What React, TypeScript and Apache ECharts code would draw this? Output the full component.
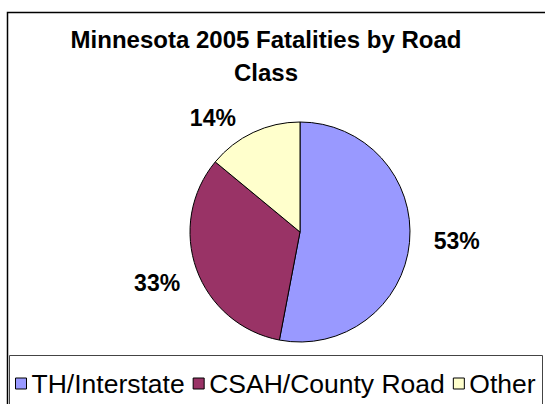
import React, { useEffect, useRef } from "react";
import * as echarts from "echarts";

const categories = ["TH/Interstate", "CSAH/County Road", "Other"];
const values = [53, 33, 14];
const colors = ["#9999FF", "#993366", "#FFFFCC"];
const titleText = "Minnesota 2005 Fatalities by Road\nClass";

const CX = 300;
const CY = 232;
const R = 110;
const FONT = "'Liberation Sans', Arial, Helvetica, sans-serif";

export default function App() {
  const ref = useRef<HTMLDivElement>(null);

  useEffect(() => {
    if (!ref.current) return;
    const chart = echarts.init(ref.current, null, { renderer: "svg" });
    const total = values.reduce((a, b) => a + b, 0);

    const option = {
      animation: false,
      backgroundColor: "#ffffff",
      title: {
        text: titleText,
        left: 266,
        top: 23,
        textAlign: "center",
        padding: 0,
        textStyle: {
          fontFamily: FONT,
          fontSize: 24,
          fontWeight: "bold",
          color: "#000",
          lineHeight: 33,
        },
      },
      legend: {
        data: categories,
        left: 15,
        top: 370,
        padding: 0,
        icon: "rect",
        itemWidth: 11,
        itemHeight: 11,
        itemGap: 8,
        textStyle: {
          fontFamily: FONT,
          fontSize: 26.5,
          color: "#000",
          lineHeight: 26,
        },
        itemStyle: { borderColor: "#000", borderWidth: 1 },
      },
      graphic: [
        {
          type: "rect",
          shape: { x: 7.5, y: 12.5, width: 560, height: 420 },
          style: { fill: "none", stroke: "#000", lineWidth: 1.5 },
          silent: true,
        },
        {
          type: "rect",
          shape: { x: 9.5, y: 355.5, width: 533, height: 60 },
          style: { fill: "none", stroke: "#444", lineWidth: 1 },
          silent: true,
        },
      ],
      series: [
        {
          type: "pie",
          center: [CX, CY],
          radius: R,
          startAngle: 90,
          clockwise: true,
          avoidLabelOverlap: false,
          itemStyle: { borderColor: "#000", borderWidth: 1 },
          label: {
            show: true,
            position: "outside",
            formatter: "{d}%",
            fontFamily: FONT,
            fontSize: 23,
            fontWeight: "bold",
            color: "#000",
          },
          labelLine: { show: false },
          labelLayout: (params: any) => {
            const i = params.dataIndex;
            let before = 0;
            for (let k = 0; k < i; k++) before += values[k];
            const mid = ((before + values[i] / 2) / total) * Math.PI * 2;
            const dx = Math.sin(mid);
            const dy = -Math.cos(mid);
            const x = CX + 142 * dx + 14 * Math.sign(dx) + 14 * dy;
            const y = CY + 131 * dy + 2 - 5 * dx;
            return { x, y, align: "center", verticalAlign: "middle" };
          },
          data: categories.map((name, i) => ({
            name,
            value: values[i],
            itemStyle: { color: colors[i] },
          })),
        },
      ],
    };

    chart.setOption(option as any);
    return () => chart.dispose();
  }, []);

  return (
    <div
      ref={ref}
      style={{ position: "absolute", left: 0, top: 0, width: 545, height: 404 }}
    />
  );
}
